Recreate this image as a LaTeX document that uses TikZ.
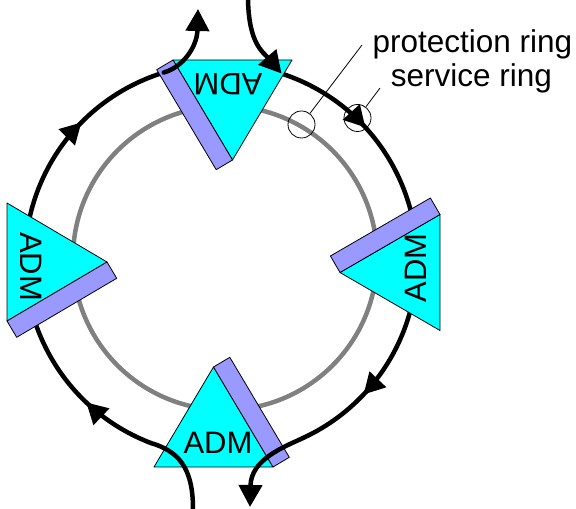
\documentclass[tikz,border=0pt]{standalone}
\usepackage{fontspec}
\setmainfont{Liberation Sans}
\usetikzlibrary{arrows.meta,decorations.markings,calc}
\definecolor{admcyan}{RGB}{0,255,255}
\definecolor{barblue}{RGB}{153,153,255}
\definecolor{ringgray}{RGB}{128,128,128}
\begin{document}
\begin{tikzpicture}[x=1pt,y=1pt,
  ring/.style={line width=4.5pt,black,line cap=round},
  bigtip/.style={-{Triangle[length=22pt,width=23pt]}},
  admtri/.style={fill=admcyan,draw=black,line width=0.8pt,line join=round},
  admbar/.style={fill=barblue,draw=black,line width=0.8pt,line join=round},
  admtxt/.style={font=\fontsize{31}{31}\selectfont,inner sep=0pt,transform shape},
  lbl/.style={font=\fontsize{31.5}{34}\selectfont,inner sep=0pt},
  thinline/.style={line width=0.8pt},
  ringarrows/.style 2 args={postaction={decorate},decoration={markings,
     mark=at position #1 with {\arrow{Triangle[length=21pt,width=22pt]}},
     mark=at position #2 with {\arrow{Triangle[length=21pt,width=22pt]}}}}
]
\useasboundingbox (0,0) rectangle (576,509);
\coordinate (ringC) at (221,249);
\coordinate (grayC) at (225,251);
% protection ring (gray)
\draw[ringgray,line width=4.5pt] (grayC) circle[radius=152];
% service ring arcs (black)
\coordinate (A1) at ($(ringC)+(72:196)$);
\coordinate (A2) at ($(ringC)+(-65:196)$);
\coordinate (B1) at ($(ringC)+(-111:196)$);
\coordinate (B2) at ($(ringC)+(107:196)$);
\draw[ring,ringarrows={0.215}{0.842}] (A1) arc[start angle=72,end angle=-65,radius=196];
\draw[ring,ringarrows={0.158}{0.80}] (B1) arc[start angle=-111,end angle=-253,radius=196];
% ADM bottom
\begin{scope}[shift={(213.5,42)},rotate=0]
  \filldraw[admtri] (-59.5,0) -- (59.5,0) -- (0,100) -- cycle;
  \node[admtxt] (admS) at (4.5,24) {ADM};
  \filldraw[admbar] (59.5,0) -- (0,100) -- (16.3,109.7) -- (75.8,9.7) -- cycle;
\end{scope}
% ADM top
\begin{scope}[shift={(232.5,449)},rotate=180]
  \filldraw[admtri] (-59.5,0) -- (59.5,0) -- (0,100) -- cycle;
  \node[admtxt] (admN) at (4.5,24) {ADM};
  \filldraw[admbar] (59.5,0) -- (0,100) -- (16.3,109.7) -- (75.8,9.7) -- cycle;
\end{scope}
% ADM right
\begin{scope}[shift={(440,236.5)},rotate=90]
  \filldraw[admtri] (-58,0) -- (58,0) -- (0,100) -- cycle;
  \node[admtxt] (admE) at (4.5,24) {ADM};
  \filldraw[admbar] (58,0) -- (0,100) -- (16.5,109.6) -- (74.5,9.6) -- cycle;
\end{scope}
% ADM left
\begin{scope}[shift={(7,247)},rotate=-90]
  \filldraw[admtri] (-59,0) -- (59,0) -- (0,100) -- cycle;
  \node[admtxt] (admW) at (4.5,24) {ADM};
  \filldraw[admbar] (59,0) -- (0,100) -- (16.3,109.7) -- (75.3,9.7) -- cycle;
\end{scope}
% add / drop paths
\coordinate (inA) at (248,509);
\coordinate (outA) at (250,2);
\coordinate (inB) at (193,0);
\coordinate (outB) at (198,500);
\draw[ring,bigtip] (inA) .. controls (249,465) and (263,457) .. (A1);
\draw[ring,bigtip] (A2) .. controls (284,62) and (251,50) .. (outA);
\draw[ring] (inB) .. controls (193,42) and (178,58) .. (B1);
\draw[ring,bigtip] (B2) .. controls (183,442) and (197,462) .. (outB);
% annotations
\node[draw,circle,thinline,minimum size=27pt,inner sep=0pt] (protC) at (301.5,384.5) {};
\node[draw,circle,thinline,minimum size=27pt,inner sep=0pt] (servC) at (357.5,391) {};
\coordinate (protEnd) at (362,464);
\coordinate (servEnd) at (380,421);
\draw[thinline] (protC) -- (protEnd);
\draw[thinline] (servC) -- (servEnd);
\node[lbl,anchor=base] (protL) at (472.5,456) {protection ring};
\node[lbl,anchor=base] (servL) at (471.5,422) {service ring};
\end{tikzpicture}
\end{document}
